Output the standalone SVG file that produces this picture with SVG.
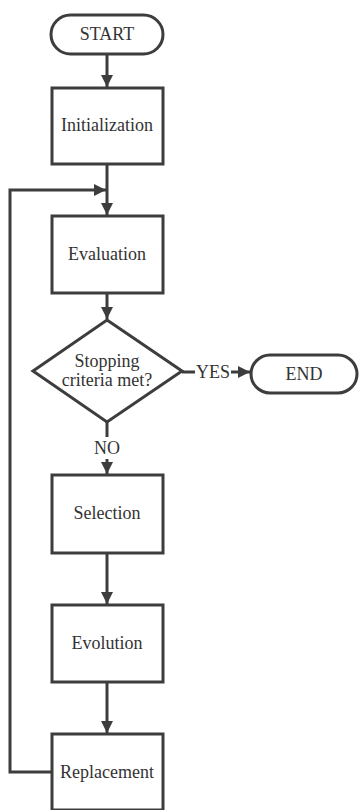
<svg xmlns="http://www.w3.org/2000/svg" width="360" height="810" viewBox="0 0 360 810">
<style>
.s{fill:#fff;stroke:#3d3d3d;stroke-width:3}
.c{fill:none;stroke:#3d3d3d;stroke-width:3}
.t{font-size:18px;fill:#333;text-anchor:middle;dominant-baseline:central}
</style>
<defs>
<marker id="a" viewBox="0 0 10 10" refX="10" refY="5" markerWidth="4" markerHeight="4" markerUnits="strokeWidth" orient="auto">
<path d="M0,0 L10,5 L0,10 Z" fill="#3d3d3d"/>
</marker>
</defs>
<rect width="360" height="810" fill="#fff"/>
<g id="connectors" font-family="'Liberation Serif', 'DejaVu Serif', serif">
<line class="c" x1="107" y1="54" x2="107" y2="87" marker-end="url(#a)"/>
<line class="c" x1="107" y1="164" x2="107" y2="215" marker-end="url(#a)"/>
<line class="c" x1="107" y1="293" x2="107" y2="319" marker-end="url(#a)"/>
<line class="c" x1="182" y1="372" x2="195" y2="372"/>
<line class="c" x1="231" y1="372" x2="250" y2="372" marker-end="url(#a)"/>
<line class="c" x1="107" y1="422" x2="107" y2="437"/>
<line class="c" x1="107" y1="459" x2="107" y2="474" marker-end="url(#a)"/>
<line class="c" x1="107" y1="553" x2="107" y2="604" marker-end="url(#a)"/>
<line class="c" x1="107" y1="682" x2="107" y2="733" marker-end="url(#a)"/>
<polyline class="c" points="52,772 10,772 10,190 106,190" marker-end="url(#a)"/>
<text class="t" x="213" y="372">YES</text>
<text class="t" x="107" y="448">NO</text>
</g>
<g font-family="'Liberation Serif', 'DejaVu Serif', serif">
<g id="start">
<rect class="s" x="51" y="15" width="112" height="39" rx="19.5"/>
<text class="t" x="107" y="34">START</text>
</g>
<g id="initialization">
<rect class="s" x="52" y="88" width="111" height="76"/>
<text class="t" x="107" y="125">Initialization</text>
</g>
<g id="evaluation">
<rect class="s" x="52" y="216" width="111" height="77"/>
<text class="t" x="107" y="254">Evaluation</text>
</g>
<g id="decision">
<polygon class="s" points="107,320 182,371 107,422 33,371"/>
<text class="t" x="107" y="361">Stopping</text>
<text class="t" x="107" y="380">criteria met?</text>
</g>
<g id="end">
<rect class="s" x="251" y="355" width="106" height="38" rx="19"/>
<text class="t" x="304" y="374">END</text>
</g>
<g id="selection">
<rect class="s" x="52" y="475" width="111" height="78"/>
<text class="t" x="107" y="513">Selection</text>
</g>
<g id="evolution">
<rect class="s" x="52" y="605" width="111" height="77"/>
<text class="t" x="107" y="643">Evolution</text>
</g>
<g id="replacement">
<rect class="s" x="52" y="734" width="111" height="76"/>
<text class="t" x="107" y="772">Replacement</text>
</g>
</g>
</svg>
